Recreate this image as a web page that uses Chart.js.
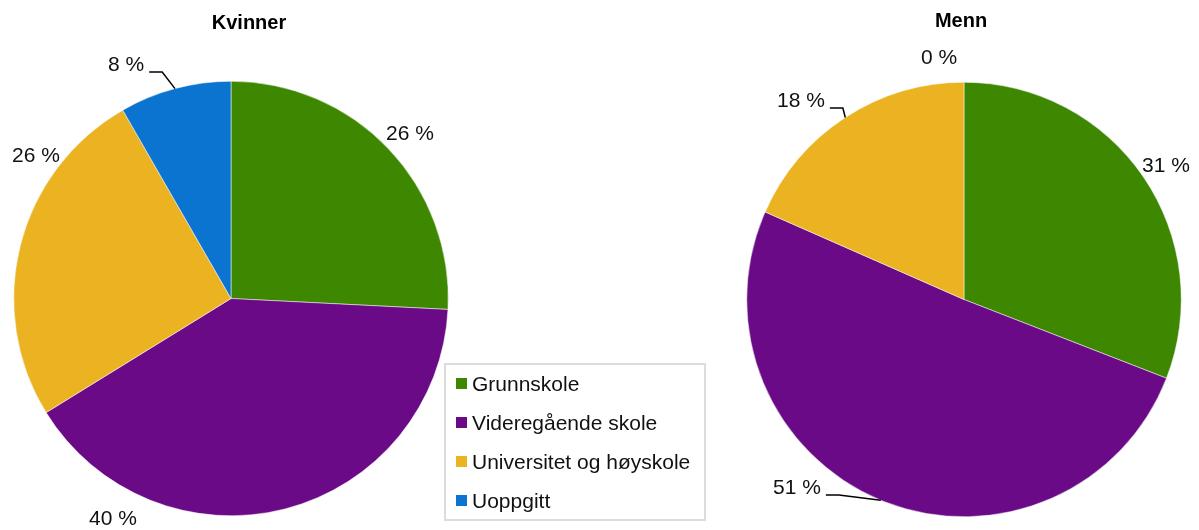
<!DOCTYPE html>
<html lang="no">
<head>
<meta charset="utf-8">
<title>Utdanning - kvinner og menn</title>
<script src="https://cdn.jsdelivr.net/npm/chart.js@4.4.1/dist/chart.umd.min.js"></script>
<style>
    body { margin: 0; background: #fff; }
    #wrap { position: relative; width: 1199px; height: 530px; overflow: hidden; font-family: "Liberation Sans", Arial, sans-serif; }
    #kvinner { position: absolute; left: 0; top: 0; }
    #menn { position: absolute; left: 737px; top: 0; }
    #legende { position: absolute; left: 444px; top: 363px; width: 262px; height: 158px; box-sizing: border-box;
               border: 2px solid #dcdcdc; padding: 0 0 0 10px; }
    #legende .rad { height: 39px; display: flex; align-items: center; font-size: 21px; color: #111; white-space: nowrap; }
    #legende .rad:first-child { margin-top: -1px; }
    #legende .boks { width: 11px; height: 11px; margin-right: 5px; flex: none; }
</style>
</head>
<body>
<div id="wrap">
    <canvas id="kvinner" width="462" height="530"></canvas>
    <canvas id="menn" width="462" height="530"></canvas>
    <div id="legende"></div>
</div>
<script>
// kategorier og andeler i prosent
var kategorier = ['Grunnskole', 'Videregående skole', 'Universitet og høyskole', 'Uoppgitt'];
var andelKvinner = [25.8, 40.4, 25.5, 8.3];
var andelMenn = [30.9, 50.7, 18.4, 0];
var farger = ['rgb(62,135,0)', 'rgb(106,10,135)', 'rgb(235,178,33)', 'rgb(10,116,208)'];

// plassering av etiketter relativt til sentrum: [dx, dy, ledelinje]
var etiketterKvinner = [[155, -164, false], [-142, 221, false], [-219, -142, false], [-123, -233, true]];
var etiketterMenn = [[178, -133, false], [-191, 189, true], [-187, -198, true], [-43, -241, false]];

var font = '"Liberation Sans", Arial, sans-serif';

// tegner tittel og prosentetiketter
var etikettPlugin = {
    id: 'etiketter',
    afterDatasetsDraw: function (chart, args, opts) {
        var ctx = chart.ctx;
        var meta = chart.getDatasetMeta(0);
        var data = chart.data.datasets[0].data;
        var cx = meta.data[0].x, cy = meta.data[0].y;
        ctx.save();
        ctx.fillStyle = '#000';
        ctx.textBaseline = 'middle';
        ctx.textAlign = 'center';
        ctx.font = 'bold 20px ' + font;
        ctx.fillText(opts.tittel, cx + opts.tittelDx, opts.tittelY);

        ctx.font = '21px ' + font;
        ctx.fillStyle = '#111';
        ctx.textAlign = 'left';
        ctx.strokeStyle = '#000';
        ctx.lineWidth = 1.5;
        meta.data.forEach(function (arc, i) {
            var p = opts.plassering[i];
            var tekst = Math.round(data[i]) + ' %';
            var tx = cx + p[0], ty = cy + p[1];
            ctx.fillText(tekst, tx, ty);
            if (p[2]) {
                var mid = (arc.startAngle + arc.endAngle) / 2;
                var ex = cx + Math.cos(mid) * arc.outerRadius;
                var ey = cy + Math.sin(mid) * arc.outerRadius;
                var w = ctx.measureText(tekst).width;
                ctx.beginPath();
                ctx.moveTo(tx + w + 5, ty + 6.5);
                ctx.lineTo(tx + w + 18, ty + 6.5);
                ctx.lineTo(ex, ey);
                ctx.stroke();
            }
        });
        ctx.restore();
    }
};

function lagKake(id, andeler, tittel, tittelDx, tittelY, plassering, padding) {
    new Chart(document.getElementById(id).getContext('2d'), {
        type: 'pie',
        data: {
            labels: kategorier,
            datasets: [{
                    data: andeler,
                    backgroundColor: farger,
                    borderColor: '#fff',
                    borderWidth: 0.5
                }]
        },
        options: {
            responsive: false,
            animation: false,
            devicePixelRatio: 1,
            layout: {
                padding: padding
            },
            plugins: {
                legend: {display: false},
                tooltip: {enabled: false},
                etiketter: {
                    tittel: tittel,
                    tittelDx: tittelDx,
                    tittelY: tittelY,
                    plassering: plassering
                }
            }
        },
        plugins: [etikettPlugin]
    });
}

lagKake('kvinner', andelKvinner, 'Kvinner', 18, 23, etiketterKvinner, {top: 81, bottom: 14, left: 13, right: 13});
lagKake('menn', andelMenn, 'Menn', -3, 21, etiketterMenn, {top: 82, bottom: 13, left: 9, right: 17});

// forklaring
var legende = document.getElementById('legende');
kategorier.forEach(function (navn, i) {
    var rad = document.createElement('div');
    rad.className = 'rad';
    var boks = document.createElement('span');
    boks.className = 'boks';
    boks.style.background = farger[i];
    rad.appendChild(boks);
    rad.appendChild(document.createTextNode(navn));
    legende.appendChild(rad);
});
</script>
</body>
</html>
